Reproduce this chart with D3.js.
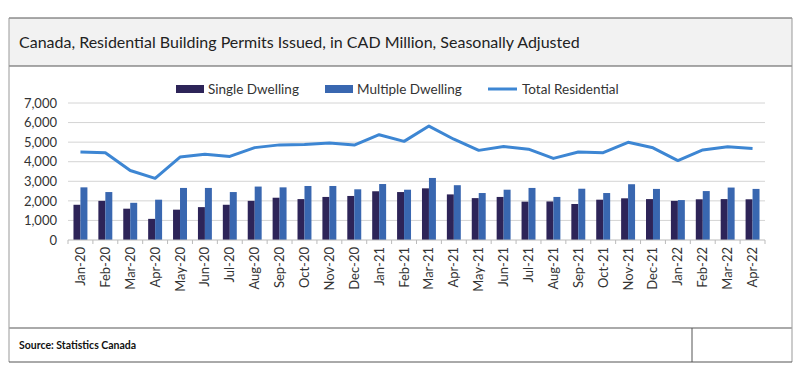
<!DOCTYPE html>
<html>
<head>
<meta charset="utf-8">
<script src="https://cdn.jsdelivr.net/npm/d3@7"></script>
<style>
  body { margin: 0; background: #fff; }
  svg { display: block; font-family: Lato, "Open Sans", sans-serif; }
</style>
</head>
<body>
<div id="chart"></div>
<script>
// months on the x axis
const months = ["Jan-20","Feb-20","Mar-20","Apr-20","May-20","Jun-20","Jul-20","Aug-20","Sep-20","Oct-20","Nov-20","Dec-20",
  "Jan-21","Feb-21","Mar-21","Apr-21","May-21","Jun-21","Jul-21","Aug-21","Sep-21","Oct-21","Nov-21","Dec-21",
  "Jan-22","Feb-22","Mar-22","Apr-22"]

// CAD million
const singleDwelling = [1800,2000,1600,1080,1550,1680,1800,2000,2160,2090,2200,2250,
  2490,2450,2640,2330,2140,2200,1960,1970,1840,2060,2130,2090,2000,2080,2090,2080]
const multipleDwelling = [2690,2450,1900,2060,2660,2660,2450,2730,2690,2760,2760,2590,
  2860,2570,3170,2800,2400,2570,2660,2200,2620,2400,2850,2610,2040,2500,2680,2610]
const totalResidential = [4490,4460,3550,3150,4240,4380,4270,4720,4860,4880,4960,4850,
  5380,5040,5820,5150,4580,4780,4640,4170,4500,4460,4990,4710,4060,4600,4760,4680]

const yTicks = [0,1000,2000,3000,4000,5000,6000,7000]

const W = 800, H = 377
const svg = d3.select("#chart").append("svg").attr("width", W).attr("height", H)

// frame + title band
const boxL = 9, boxR = 792
svg.append("rect").attr("x", boxL).attr("y", 18).attr("width", boxR - boxL).attr("height", 48)
  .attr("fill", "#f2f2f2")
svg.append("line").attr("x1", boxL).attr("x2", boxR).attr("y1", 18).attr("y2", 18).attr("stroke", "#555")
svg.append("line").attr("x1", boxL).attr("x2", boxR).attr("y1", 66).attr("y2", 66).attr("stroke", "#555")
svg.append("line").attr("x1", boxL).attr("x2", boxL).attr("y1", 18).attr("y2", 362).attr("stroke", "#999")
svg.append("line").attr("x1", boxR).attr("x2", boxR).attr("y1", 18).attr("y2", 362).attr("stroke", "#999")
svg.append("line").attr("x1", boxL).attr("x2", boxR).attr("y1", 328).attr("y2", 328).attr("stroke", "#aaa").attr("stroke-width", 2)
svg.append("line").attr("x1", boxL).attr("x2", boxR).attr("y1", 362).attr("y2", 362).attr("stroke", "#555")
svg.append("line").attr("x1", 692).attr("x2", 692).attr("y1", 328).attr("y2", 362).attr("stroke", "#555")

svg.append("text").attr("x", 19).attr("y", 48)
  .style("font-size", "16px").style("fill", "#222")
  .text("Canada, Residential Building Permits Issued, in CAD Million, Seasonally Adjusted")

svg.append("text").attr("x", 19).attr("y", 349)
  .style("font-size", "10.5px").style("font-weight", "bold").style("fill", "#111")
  .text("Source: Statistics Canada")

// scales
const x = d3.scaleBand().domain(months).range([68, 765]).paddingInner(0.44).paddingOuter(0.22)
const xSub = d3.scaleBand().domain(["single", "multi"]).range([0, x.bandwidth()])
const y = d3.scaleLinear().domain([0, 7000]).range([240, 103])

const cSingle = "#2d2458", cMulti = "#3967b0", cTotal = "#3d86d3"

// gridlines
svg.append("g").selectAll("line").data(yTicks.slice(1)).join("line")
  .attr("x1", 68).attr("x2", 765)
  .attr("y1", d => y(d)).attr("y2", d => y(d))
  .attr("stroke", "#d4d4d4")

// y axis labels
const yAxis = d3.axisLeft(y).tickValues(yTicks).tickFormat(d3.format(",")).tickSize(0).tickPadding(11)
const gy = svg.append("g").attr("transform", "translate(68,0)").call(yAxis)
gy.select(".domain").remove()
gy.selectAll("text").style("font-size", "13px").style("fill", "#333").style("font-family", "Lato, sans-serif")

// bars
const bars = svg.append("g")
bars.selectAll(".s").data(months).join("rect").attr("class", "s")
  .attr("x", d => x(d) + xSub("single")).attr("width", xSub.bandwidth())
  .attr("y", (d, i) => y(singleDwelling[i])).attr("height", (d, i) => y(0) - y(singleDwelling[i]))
  .attr("fill", cSingle)
bars.selectAll(".m").data(months).join("rect").attr("class", "m")
  .attr("x", d => x(d) + xSub("multi")).attr("width", xSub.bandwidth())
  .attr("y", (d, i) => y(multipleDwelling[i])).attr("height", (d, i) => y(0) - y(multipleDwelling[i]))
  .attr("fill", cMulti)

// x axis, ticks between categories
const gx = svg.append("g").attr("transform", "translate(0,240)")
gx.append("line").attr("x1", 68).attr("x2", 765).attr("stroke", "#bbb")
gx.selectAll(".tk").data(d3.range(months.length + 1)).join("line").attr("class", "tk")
  .attr("x1", i => 68 + i * (697 / months.length)).attr("x2", i => 68 + i * (697 / months.length))
  .attr("y1", 0).attr("y2", 4).attr("stroke", "#bbb")
gx.selectAll("text").data(months).join("text")
  .attr("transform", d => `translate(${x(d) + x.bandwidth() / 2 + 4.5},7) rotate(-90)`)
  .attr("text-anchor", "end")
  .style("font-size", "13px").style("fill", "#333")
  .text(d => d)

// total line
const line = d3.line().x((d, i) => x(months[i]) + x.bandwidth() / 2).y(d => y(d))
svg.append("path").datum(totalResidential).attr("d", line)
  .attr("fill", "none").attr("stroke", cTotal).attr("stroke-width", 3).attr("stroke-linejoin", "round")

// legend
const lg = svg.append("g").style("font-size", "13.5px").style("fill", "#333")
lg.append("rect").attr("x", 176).attr("y", 85).attr("width", 28).attr("height", 8).attr("fill", cSingle)
lg.append("text").attr("x", 208).attr("y", 94).text("Single Dwelling")
lg.append("rect").attr("x", 325).attr("y", 85).attr("width", 28).attr("height", 8).attr("fill", cMulti)
lg.append("text").attr("x", 357).attr("y", 94).text("Multiple Dwelling")
lg.append("line").attr("x1", 488).attr("x2", 517).attr("y1", 89).attr("y2", 89).attr("stroke", cTotal).attr("stroke-width", 3)
lg.append("text").attr("x", 522).attr("y", 94).text("Total Residential")
</script>
</body>
</html>
